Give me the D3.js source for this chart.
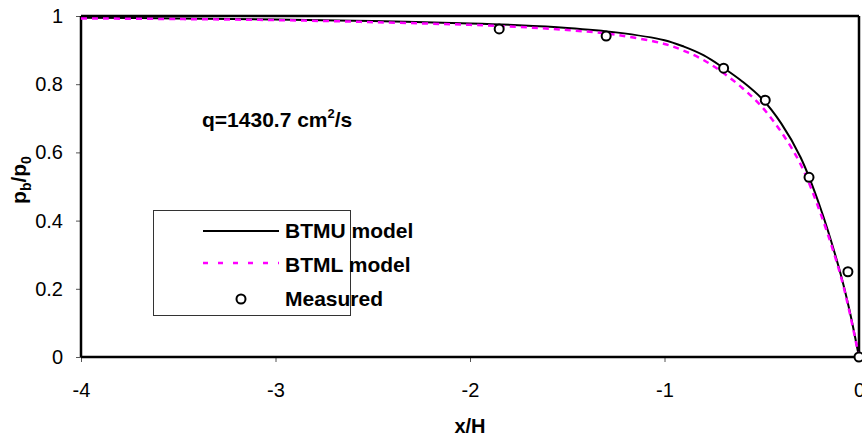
<!DOCTYPE html>
<html>
<head>
<meta charset="utf-8">
<script src="https://cdn.jsdelivr.net/npm/d3@7"></script>
<style>
  html, body { margin: 0; padding: 0; background: #fff; }
  svg { display: block; font-family: "Liberation Sans", Arial, sans-serif; }
</style>
</head>
<body>
<svg id="chart" width="862" height="439"></svg>
<script>
// ---- data ----
const btmuX = [-4, -3.5, -3, -2.5, -2, -1.75, -1.5, -1.25, -1, -0.9, -0.8, -0.7, -0.6, -0.5, -0.4, -0.3, -0.2, -0.1, -0.05, 0];
const btmuY = [0.995, 0.993, 0.99, 0.985, 0.978, 0.973, 0.965, 0.952, 0.929, 0.91, 0.885, 0.849, 0.808, 0.758, 0.685, 0.585, 0.44, 0.255, 0.14, 0];
const btmlX = [-4, -3.5, -3, -2.5, -2, -1.75, -1.5, -1.25, -1, -0.9, -0.8, -0.7, -0.6, -0.5, -0.4, -0.3, -0.2, -0.1, -0.05, 0];
const btmlY = [0.993, 0.991, 0.988, 0.982, 0.974, 0.968, 0.959, 0.945, 0.918, 0.898, 0.871, 0.834, 0.789, 0.734, 0.66, 0.565, 0.425, 0.25, 0.135, 0];
const measX = [-1.85, -1.3, -0.696, -0.482, -0.257, -0.057, 0];
const measY = [0.962, 0.941, 0.847, 0.753, 0.527, 0.25, 0];
const xTicks = [-4, -3, -2, -1, 0];
const xTickLabels = ["-4", "-3", "-2", "-1", "0"];
const yTicks = [0, 0.2, 0.4, 0.6, 0.8, 1];
const yTickLabels = ["0", "0.2", "0.4", "0.6", "0.8", "1"];
const legendLabels = ["BTMU model", "BTML model", "Measured"];

// ---- layout ----
const svg = d3.select("#chart");
const L = 81, R = 859, T = 16, B = 357;
const x = d3.scaleLinear().domain([-4, 0]).range([L, R]);
const y = d3.scaleLinear().domain([0, 1]).range([B, T]);
const font = "'Liberation Sans', Arial, sans-serif";

// axes
const xAxis = d3.axisBottom(x).tickValues(xTicks).tickFormat((d, i) => xTickLabels[i]).tickSize(5).tickPadding(21);
const yAxis = d3.axisLeft(y).tickValues(yTicks).tickFormat((d, i) => yTickLabels[i]).tickSize(5).tickPadding(13);

const gx = svg.append("g").attr("transform", `translate(0,${B})`).call(xAxis);
const gy = svg.append("g").attr("transform", `translate(${L},0)`).call(yAxis);
[gx, gy].forEach(g => {
  g.select(".domain").remove();
  g.selectAll(".tick line").attr("stroke", "#555").attr("stroke-width", 1);
  g.selectAll(".tick text").attr("fill", "#000").style("font-family", font).style("font-size", "20px");
});

// frame
const frame = svg.append("g").attr("stroke", "#000").attr("stroke-width", 2.5);
frame.append("line").attr("x1", L).attr("x2", R).attr("y1", T).attr("y2", T);
frame.append("line").attr("x1", R).attr("x2", R).attr("y1", T).attr("y2", B);
frame.append("line").attr("x1", L).attr("x2", L).attr("y1", T).attr("y2", B);
frame.append("line").attr("x1", L).attr("x2", R).attr("y1", B).attr("y2", B);

// curves
const line = d3.line().x(d => x(d[0])).y(d => y(d[1])).curve(d3.curveCatmullRom.alpha(0.5));
svg.append("path").datum(btmuX.map((v, i) => [v, btmuY[i]]))
  .attr("d", line).attr("fill", "none").attr("stroke", "#000").attr("stroke-width", 2);
svg.append("path").datum(btmlX.map((v, i) => [v, btmlY[i]]))
  .attr("d", line).attr("fill", "none").attr("stroke", "#ff00ff").attr("stroke-width", 2.5)
  .attr("stroke-dasharray", "6,5");

// measured
svg.append("g").selectAll("circle").data(measX.map((v, i) => [v, measY[i]])).join("circle")
  .attr("cx", d => x(d[0])).attr("cy", d => y(d[1])).attr("r", 4.5)
  .attr("fill", "#fff").attr("stroke", "#000").attr("stroke-width", 2);

// axis titles
svg.append("text").attr("x", (L + R) / 2).attr("y", 433).attr("text-anchor", "middle")
  .style("font-family", font).style("font-size", "20px").style("font-weight", "bold").text("x/H");

const yl = svg.append("text").attr("transform", "translate(26,180) rotate(-90)").attr("text-anchor", "middle")
  .style("font-family", font).style("font-size", "21px").style("font-weight", "bold");
yl.append("tspan").text("p");
yl.append("tspan").attr("dy", 5).style("font-size", "14px").text("b");
yl.append("tspan").attr("dy", -5).text("/p");
yl.append("tspan").attr("dy", 5).style("font-size", "14px").text("0");

// annotation
const ann = svg.append("text").attr("x", 202).attr("y", 127)
  .style("font-family", font).style("font-size", "21px").style("font-weight", "bold");
ann.append("tspan").text("q=1430.7 cm");
ann.append("tspan").attr("dy", -9).style("font-size", "13px").text("2");
ann.append("tspan").attr("dy", 9).text("/s");

// legend
const lg = svg.append("g");
lg.append("rect").attr("x", 153.5).attr("y", 210.5).attr("width", 197).attr("height", 105)
  .attr("fill", "#fff").attr("stroke", "#333").attr("stroke-width", 1);
const rowsY = [231, 263, 299];
const baseY = [238, 272, 306];
lg.append("line").attr("x1", 203).attr("x2", 279).attr("y1", rowsY[0]).attr("y2", rowsY[0])
  .attr("stroke", "#000").attr("stroke-width", 2);
lg.append("line").attr("x1", 203).attr("x2", 279).attr("y1", rowsY[1]).attr("y2", rowsY[1])
  .attr("stroke", "#ff00ff").attr("stroke-width", 2.5).attr("stroke-dasharray", "5,10");
lg.append("circle").attr("cx", 241).attr("cy", rowsY[2]).attr("r", 4.5)
  .attr("fill", "#fff").attr("stroke", "#000").attr("stroke-width", 2);
lg.selectAll("text.lt").data(legendLabels).join("text").attr("class", "lt")
  .attr("x", 285).attr("y", (d, i) => baseY[i])
  .style("font-family", font).style("font-size", "21px").style("font-weight", "bold").text(d => d);
</script>
</body>
</html>
